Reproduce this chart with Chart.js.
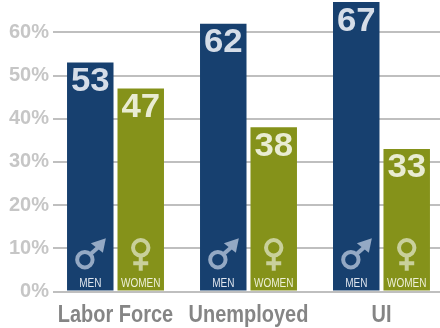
<!DOCTYPE html>
<html>
<head>
<meta charset="utf-8">
<style>
  html, body { margin: 0; padding: 0; background: #fff; overflow: hidden; }
  canvas { display: block; }
</style>
<script src="https://cdn.jsdelivr.net/npm/chart.js@4/dist/chart.umd.min.js"></script>
</head>
<body>
<canvas id="shareChart" width="440" height="328"></canvas>
<script>
var categories = ['Labor Force', 'Unemployed', 'UI'];
var menValues = [53, 62, 67];
var womenValues = [47, 38, 33];
var yTicks = [0, 10, 20, 30, 40, 50, 60];

function toPoints(values) {
    return values.map(function (v, i) {
        return { x: i, y: v };
    });
}

// no condensed face available, so squeeze the text horizontally
function stretchedText(ctx, text, x, y, sx) {
    ctx.save();
    ctx.translate(x, y);
    ctx.scale(sx, 1);
    ctx.fillText(text, 0, 0);
    ctx.restore();
}

function drawMale(ctx, cx, base, color) {
    var x = cx - 5.4, y = base - 31.8;
    ctx.strokeStyle = color;
    ctx.fillStyle = color;
    ctx.lineWidth = 4;
    ctx.beginPath();
    ctx.arc(x, y, 7.7, 0, Math.PI * 2);
    ctx.stroke();
    ctx.beginPath();
    ctx.moveTo(x + 5.5, y - 5.5);
    ctx.lineTo(x + 14, y - 13);
    ctx.stroke();
    // arrow head
    ctx.beginPath();
    ctx.moveTo(x + 21, y - 21.4);
    ctx.lineTo(x + 6, y - 16.4);
    ctx.lineTo(x + 18, y - 7);
    ctx.closePath();
    ctx.fill();
}

function drawFemale(ctx, cx, base, color) {
    var y = base - 43.7;
    ctx.strokeStyle = color;
    ctx.lineWidth = 4;
    ctx.beginPath();
    ctx.arc(cx, y, 7.7, 0, Math.PI * 2);
    ctx.stroke();
    ctx.beginPath();
    ctx.moveTo(cx, y + 9);
    ctx.lineTo(cx, y + 23);
    ctx.moveTo(cx - 7.5, y + 15.5);
    ctx.lineTo(cx + 7.5, y + 15.5);
    ctx.stroke();
}

// value on top of each bar, symbol and caption at its foot, group names below
var barLabels = {
    id: 'barLabels',
    afterDatasetsDraw: function (chart) {
        var ctx = chart.ctx;
        var base = chart.scales.y.getPixelForValue(0);
        ctx.save();
        ctx.textAlign = 'center';
        ctx.textBaseline = 'alphabetic';
        chart.data.datasets.forEach(function (ds, d) {
            chart.getDatasetMeta(d).data.forEach(function (bar, i) {
                ctx.fillStyle = ds.labelColor;
                ctx.font = 'bold 32.5px "Liberation Sans", Arial, sans-serif';
                stretchedText(ctx, String(ds.data[i].y), bar.x, bar.y + 28.5, 1.07);
                ctx.fillStyle = ds.captionColor;
                ctx.font = '12.5px "Liberation Sans", sans-serif';
                stretchedText(ctx, ds.label, bar.x, base - 5, 0.8);
                if (d === 0) {
                    drawMale(ctx, bar.x, base, ds.symbolColor);
                } else {
                    drawFemale(ctx, bar.x, base, ds.symbolColor);
                }
            });
        });
        ctx.fillStyle = '#858585';
        ctx.font = 'bold 23.5px "Liberation Sans", sans-serif';
        categories.forEach(function (c, i) {
            stretchedText(ctx, c, chart.scales.x.getPixelForValue(i), 322, 0.85);
        });
        ctx.restore();
    }
};

new Chart(document.getElementById('shareChart').getContext('2d'), {
    type: 'bar',
    data: {
        datasets: [{
            label: 'MEN',
            data: toPoints(menValues),
            backgroundColor: '#17406f',
            labelColor: '#d5dde8',
            captionColor: '#dfe5ee',
            symbolColor: '#94a9c4'
        }, {
            label: 'WOMEN',
            data: toPoints(womenValues),
            backgroundColor: '#85921a',
            labelColor: '#e9ecd2',
            captionColor: '#eef0d8',
            symbolColor: '#c9d09b'
        }]
    },
    options: {
        responsive: false,
        animation: false,
        parsing: false,
        layout: { padding: 0 },
        categoryPercentage: 0.759,
        barPercentage: 0.921,
        plugins: {
            legend: { display: false },
            tooltip: { enabled: false }
        },
        scales: {
            x: {
                type: 'linear',
                offset: false,
                min: -0.47,
                max: 2.44,
                grid: { display: false },
                border: { display: false },
                ticks: { display: false },
                // one tick per group, the bar width is worked out from their spacing
                afterBuildTicks: function (scale) {
                    scale.ticks = categories.map(function (c, i) {
                        return { value: i };
                    });
                },
                afterFit: function (scale) {
                    scale.height = 36.5;
                    scale.paddingLeft = 0;
                    scale.paddingRight = 0;
                }
            },
            y: {
                min: 0,
                max: 67.48,
                grid: {
                    color: '#bfbfbf',
                    lineWidth: 2,
                    drawTicks: false
                },
                border: { display: false },
                afterBuildTicks: function (scale) {
                    scale.ticks = yTicks.map(function (v) {
                        return { value: v };
                    });
                },
                afterFit: function (scale) {
                    scale.width = 53;
                    scale.paddingTop = 0;
                    scale.paddingBottom = 0;
                },
                ticks: {
                    padding: 4,
                    color: '#c6c6c6',
                    font: { family: '"Liberation Sans", Arial, sans-serif', size: 20, weight: 'bold' },
                    callback: function (v) {
                        return v + '%';
                    }
                }
            }
        }
    },
    plugins: [barLabels]
});
</script>
</body>
</html>
